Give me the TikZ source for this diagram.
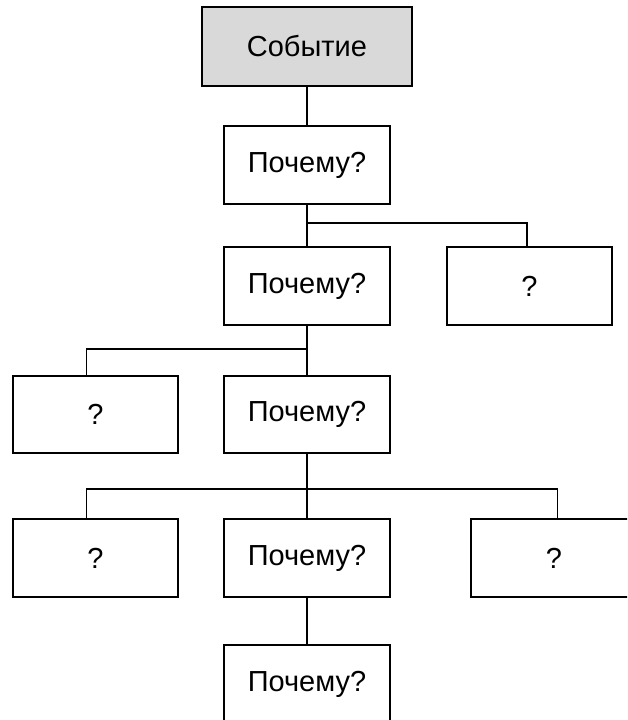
\documentclass[tikz,border=0pt]{standalone}
\usepackage{fontspec}
\setmainfont{Liberation Sans}
\usetikzlibrary{calc}

\begin{document}
\begin{tikzpicture}[x=1pt,y=-1pt,
  whybox/.style={draw,line width=1.2pt,minimum width=166pt,minimum height=78pt,inner sep=0pt,
    font=\fontsize{29}{33}\selectfont},
  link/.style={line width=1.2pt}]
\clip (0,0) rectangle (627,720);

% The boxes
\node (event) at (307,46.5) [whybox,line width=2pt,fill=black!15,minimum width=210pt,minimum height=79pt] {Событие};
\node (why1) at (307,165) [whybox] {Почему?};
\node (why2) at (307,286) [whybox] {Почему?};
\node (ask1) at (529.5,286) [whybox,minimum width=165pt] {?};
\node (why3) at (307,414.5) [whybox,minimum height=77pt] {Почему?};
\node (ask2) at (95.5,414.5) [whybox,minimum width=165pt,minimum height=77pt] {?};
\node (why4) at (307,558) [whybox] {Почему?};
\node (ask3) at (95.5,558) [whybox,minimum width=165pt] {?};
\node (ask4) at (554,558) [whybox] {?};
\node (why5) at (307,684) [whybox] {Почему?};

% branch points
\coordinate (fork1) at (307,223);
\coordinate (fork2) at (307,349);
\coordinate (fork3) at (307,489);

% connectors
\draw[link] (event.south) -- (why1.north);
\draw[link] (why1.south) -- (why2.north);
\draw[link] (fork1) -| ($(ask1.north west)!0.485!(ask1.north east)$);
\draw[link] (why2.south) -- (why3.north);
\draw[link] (fork2) -| ($(ask2.north west)!0.448!(ask2.north east)$);
\draw[link] (why3.south) -- (why4.north);
\draw[link] (fork3) -| ($(ask3.north west)!0.448!(ask3.north east)$);
\draw[link] (fork3) -| ($(ask4.north west)!0.52!(ask4.north east)$);
\draw[link] (why4.south) -- (why5.north);

\end{tikzpicture}
\end{document}
